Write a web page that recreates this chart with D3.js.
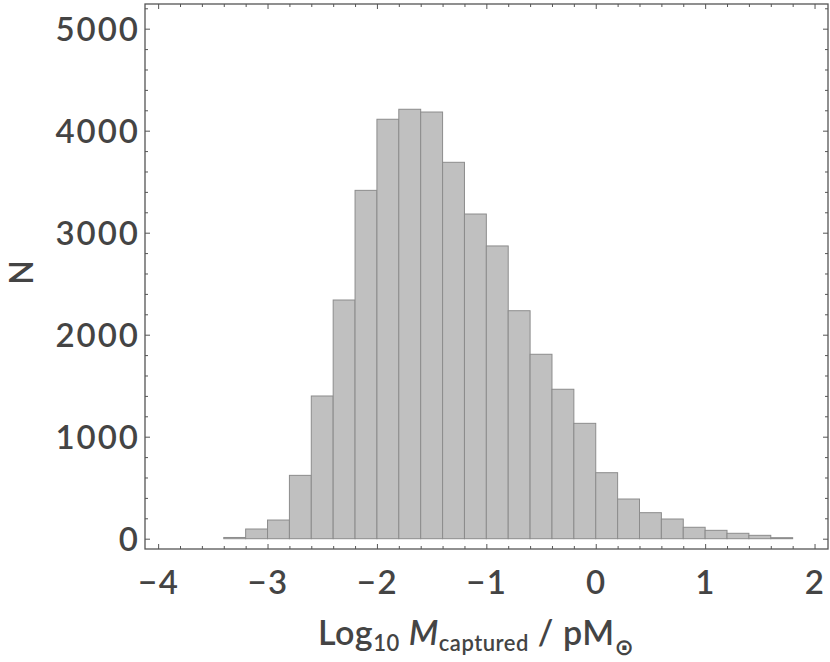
<!DOCTYPE html>
<html>
<head>
<meta charset="utf-8">
<script src="https://cdn.jsdelivr.net/npm/d3@7"></script>
<style>
  body { margin: 0; background: #fff; }
  text { font-family: Lato, "DejaVu Sans", sans-serif; fill: #444; font-weight: 600; }
</style>
</head>
<body>
<div id="chart"></div>
<script>
// bin lower edges (width 0.2) and counts
const binStarts = [-3.4, -3.2, -3.0, -2.8, -2.6, -2.4, -2.2, -2.0, -1.8, -1.6, -1.4, -1.2, -1.0,
                   -0.8, -0.6, -0.4, -0.2, 0.0, 0.2, 0.4, 0.6, 0.8, 1.0, 1.2, 1.4, 1.6];
const binWidth = 0.2;
const counts = [12, 95, 183, 621, 1399, 2340, 3415, 4112, 4210, 4183, 3690, 3183, 2870,
                2235, 1808, 1465, 1131, 647, 389, 255, 193, 112, 82, 53, 33, 10];
const xTicks = [-4, -3, -2, -1, 0, 1, 2];
const yTicks = [0, 1000, 2000, 3000, 4000, 5000];

const w = 830, h = 662;
const pLeft = 145, pRight = 828, pTop = 4, pBottom = 549;

const svg = d3.select('#chart').append('svg')
    .attr('width', w)
    .attr('height', h);

const x = d3.scaleLinear().domain([-4.12, 2.123]).range([pLeft, pRight]);
const y = d3.scaleLinear().domain([-101, 5242]).range([pBottom, pTop]);

// bars
svg.append('g')
    .selectAll('rect')
    .data(counts)
    .enter()
    .append('rect')
    .attr('x', (d, i) => x(binStarts[i]))
    .attr('width', (d, i) => x(binStarts[i] + binWidth) - x(binStarts[i]))
    .attr('y', d => y(d))
    .attr('height', d => y(0) - y(d))
    .attr('fill', '#c0c0c0')
    .attr('stroke', '#8c8c8c')
    .attr('stroke-width', 1);

// minor/major tick values
const xMinor = d3.range(-20, 11).map(k => k / 5).filter(v => !xTicks.includes(v));
const yMinor = d3.range(0, 27).map(k => k * 200).filter(v => !yTicks.includes(v));

function frameTicks(g, axisFn, scale, major, minor, tr, labels) {
    g.append('g').attr('transform', tr)
        .call(axisFn(scale).tickValues(minor).tickSize(-3).tickFormat(''));
    const a = g.append('g').attr('transform', tr)
        .call(axisFn(scale).tickValues(major).tickSize(-5)
            .tickFormat(labels ? (d => d < 0 ? '\u2212' + Math.abs(d) : d) : ''));
    return a;
}

const gAx = svg.append('g');
const xa = frameTicks(gAx, d3.axisBottom, x, xTicks, xMinor, `translate(0,${pBottom})`, true);
frameTicks(gAx, d3.axisTop, x, xTicks, xMinor, `translate(0,${pTop})`, false);
const ya = frameTicks(gAx, d3.axisLeft, y, yTicks, yMinor, `translate(${pLeft},0)`, true);
frameTicks(gAx, d3.axisRight, y, yTicks, yMinor, `translate(${pRight},0)`, false);

gAx.selectAll('.domain').remove();
gAx.selectAll('line').attr('stroke', '#555').attr('stroke-width', 1);

xa.selectAll('text')
    .attr('y', 45)
    .attr('dy', 0)
    .style('font-size', '33px')
    .style('letter-spacing', '1.5px')
    .attr('fill', '#444');
ya.selectAll('text')
    .attr('x', -5)
    .attr('dy', '0.36em')
    .style('font-size', '33px')
    .style('letter-spacing', '2px')
    .attr('fill', '#444');

// frame
svg.append('rect')
    .attr('x', pLeft).attr('y', pTop)
    .attr('width', pRight - pLeft).attr('height', pBottom - pTop)
    .attr('fill', 'none')
    .attr('stroke', '#555')
    .attr('stroke-width', 1.3);

// axis titles
svg.append('text')
    .attr('transform', `translate(33,${(pTop + pBottom) / 2 - 4}) rotate(-90)`)
    .attr('text-anchor', 'middle')
    .style('font-size', '32px')
    .text('N');

const xt = svg.append('text')
    .attr('x', 318)
    .attr('y', 645)
    .style('font-size', '34px')
    .style('letter-spacing', '0.5px');
xt.append('tspan').text('Log');
xt.append('tspan').attr('dy', 6).style('font-size', '22px').text('10');
xt.append('tspan').attr('dy', -6).text('\u00a0');
xt.append('tspan').style('font-style', 'italic').text('M');
xt.append('tspan').attr('dy', 6).style('font-size', '22px').text('captured');
xt.append('tspan').attr('dy', -6).text(' / pM');
xt.append('tspan').attr('dy', 10).style('font-size', '23px').text('\u2299');
</script>
</body>
</html>
